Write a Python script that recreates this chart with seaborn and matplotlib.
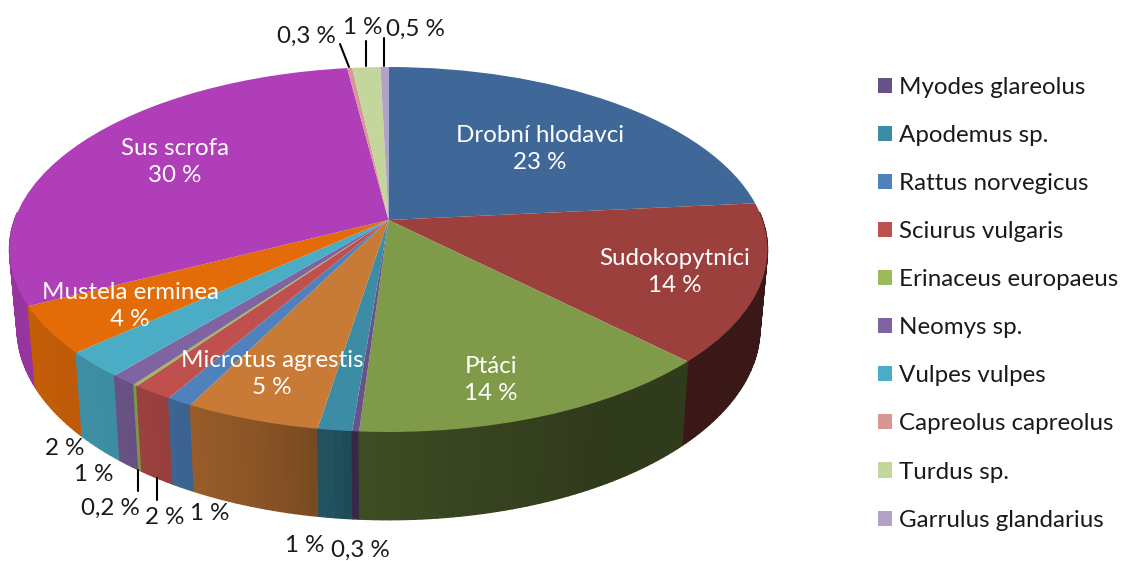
"""3D looking pie chart of prey groups, drawn with a projected ax.pie."""

import numpy as np
import matplotlib
matplotlib.use("Agg")
import matplotlib.pyplot as plt
import seaborn as sns
from matplotlib.collections import PolyCollection
from matplotlib.colors import to_rgb
from matplotlib.transforms import Transform

# slices, clockwise from the top
names = ["Drobní hlodavci", "Sudokopytníci", "Ptáci", "Myodes glareolus",
         "Apodemus sp.", "Microtus agrestis", "Rattus norvegicus",
         "Sciurus vulgaris", "Erinaceus europaeus", "Neomys sp.",
         "Vulpes vulpes", "Mustela erminea", "Sus scrofa",
         "Capreolus capreolus", "Turdus sp.", "Garrulus glandarius"]
values = [23.5, 14, 13.6, 0.25, 1.25, 4.95, 0.95, 1.5, 0.15, 1, 2.3, 4.2,
          30.4, 0.25, 1.4, 0.4]
value_labels = ["23 %", "14 %", "14 %", "0,3 %", "1 %", "5 %", "1 %", "2 %",
                "0,2 %", "1 %", "2 %", "4 %", "30 %", "0,3 %", "1 %", "0,5 %"]
colors = ["#3F6797", "#9C403E", "#7F9A48", "#69518A", "#3B8CA4", "#C87A37",
          "#4F81BD", "#C0504D", "#9BBB59", "#8064A2", "#4BACC6", "#E36C09",
          "#B03EB8", "#D99694", "#C3D69B", "#B3A2C7"]
legend_names = ["Myodes glareolus", "Apodemus sp.", "Rattus norvegicus",
                "Sciurus vulgaris", "Erinaceus europaeus", "Neomys sp.",
                "Vulpes vulpes", "Capreolus capreolus", "Turdus sp.",
                "Garrulus glandarius"]

# layout, in pixels of the picture
CX, CY = 388.5, 220
RX, RY = 374, 177.7
PERSP = 0.1616
WALL_DROP = 92
WALL_SCALE = 0.98
FONT = 17.4

inside_pos = {"Drobní hlodavci": (540, 149), "Sudokopytníci": (675, 272),
              "Ptáci": (491, 380), "Microtus agrestis": (272, 374),
              "Mustela erminea": (130, 306), "Sus scrofa": (175, 162)}
outside_pos = {"Capreolus capreolus": (306, 36), "Turdus sp.": (363, 27),
               "Garrulus glandarius": (415, 29), "Vulpes vulpes": (65, 448),
               "Neomys sp.": (94, 474), "Erinaceus europaeus": (110, 508),
               "Sciurus vulgaris": (165, 518), "Rattus norvegicus": (210, 513),
               "Apodemus sp.": (305, 546), "Myodes glareolus": (360, 550)}
leaders = [((340, 44), (349, 67)), ((366, 41), (366, 66)),
           ((384, 38), (384, 66)), ((138, 470), (138, 491)),
           ((157, 478), (157, 500))]


def project(u, v, drop=0.0, scale=1.0):
    """Map the unit circle plane to picture pixels with a perspective."""
    w = 1 + PERSP * v
    return (CX + scale * RX * u / w,
            CY + drop / w * (1 - PERSP) - scale * RY * v / w)


class PieProjection(Transform):
    input_dims = 2
    output_dims = 2
    is_separable = False
    has_inverse = False

    def transform_non_affine(self, values):
        values = np.asarray(values)
        x, y = project(values[:, 0], values[:, 1])
        return np.column_stack([x, y])


def wall_shade(x):
    # side of the pie gets darker from left to right
    return np.interp(x, [30, 100, 150, 250, 330, 360, 450, 600, 720],
                     [.86, .82, .80, .70, .58, .50, .45, .38, .38])


sns.set_theme(style="white")
plt.rcParams['font.family'] = ['Lato', 'DejaVu Sans']

fig = plt.figure(figsize=(11.21, 5.61), dpi=100)
ax = fig.add_axes([0, 0, 1, 1])
wedges, _ = ax.pie(values, colors=colors, startangle=90, counterclock=False,
                   wedgeprops={'linewidth': 0, 'zorder': 3})
ax.set_aspect('auto')
ax.set_xlim(0, 1121)
ax.set_ylim(561, 0)
ax.axis('off')

projection = PieProjection() + ax.transData
quads = []
for wedge, color in zip(wedges, colors):
    wedge.set_transform(projection)
    steps = max(1, int(wedge.theta2 - wedge.theta1))
    angles = np.radians(np.linspace(wedge.theta1, wedge.theta2, steps + 1))
    base = np.array(to_rgb(color))
    for a, b in zip(angles[:-1], angles[1:]):
        # only the front of the rim can be seen
        if np.sin((a + b) / 2) > 0.05:
            continue
        t0 = project(np.cos(a), np.sin(a))
        t1 = project(np.cos(b), np.sin(b))
        b1 = project(np.cos(b), np.sin(b), WALL_DROP, WALL_SCALE)
        b0 = project(np.cos(a), np.sin(a), WALL_DROP, WALL_SCALE)
        depth = -np.sin((a + b) / 2)
        shade = wall_shade((t0[0] + t1[0]) / 2)
        quads.append((depth, [t0, t1, b1, b0], base * shade))
quads.sort(key=lambda q: q[0])
ax.add_collection(PolyCollection([q[1] for q in quads],
                                 facecolors=[q[2] for q in quads],
                                 edgecolors=[q[2] for q in quads],
                                 linewidths=1.0, zorder=1))

for name, label in zip(names, value_labels):
    if name in inside_pos:
        x, y = inside_pos[name]
        ax.text(x, y, name + "\n" + label, color="white", fontsize=FONT,
                ha="center", va="center", linespacing=1.3, zorder=5)
    else:
        x, y = outside_pos[name]
        ax.text(x, y, label, color="#1a1a1a", fontsize=FONT,
                ha="center", va="center", zorder=5)

for start, end in leaders:
    ax.plot([start[0], end[0]], [start[1], end[1]], color="black", lw=1.5,
            zorder=4)

handles = [wedges[names.index(n)] for n in legend_names]
ax.legend(handles, legend_names, loc="upper left",
          bbox_to_anchor=(878 / 1121, 1 - 77 / 561), frameon=False,
          fontsize=FONT, handlelength=0.58, handleheight=0.58,
          handletextpad=0.3, labelspacing=1.12, borderpad=0, borderaxespad=0,
          labelcolor="#1a1a1a")

fig.savefig("out.png", dpi=100)
